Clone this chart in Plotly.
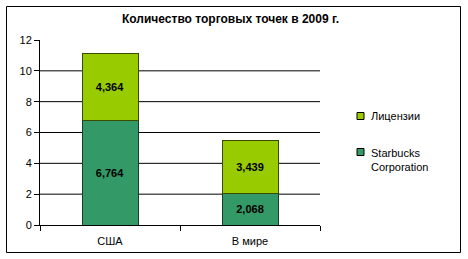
import plotly.graph_objects as go

categories = ["США", "В мире"]
starbucks = [6.764, 2.068]
licenses = [4.364, 3.439]
series_names = ["Starbucks<br>Corporation", "Лицензии"]
y_ticks = [0, 2, 4, 6, 8, 10, 12]
grid_vals = [2, 4, 6, 8, 10]

W, H = 468, 259
L, R, T, B = 40, 148, 40, 34
PW, PH = W - L - R, H - T - B

def px(x):
    return (x - L) / PW

def py(y):
    return (H - B - y) / PH

FONT = "Arial, Liberation Sans, sans-serif"
C_SB = "#339966"
C_LIC = "#99CC00"

fig = go.Figure()
fig.add_trace(go.Bar(
    x=categories, y=starbucks, name="Starbucks Corporation",
    marker=dict(color=C_SB, line=dict(color="#1a3a2a", width=1)),
    width=0.4, texttemplate="<b>%{y:.3f}</b>", textposition="inside",
    insidetextanchor="middle",
    textfont=dict(family=FONT, size=11, color="black"),
))
fig.add_trace(go.Bar(
    x=categories, y=licenses, name="Лицензии",
    marker=dict(color=C_LIC, line=dict(color="#3a4a00", width=1)),
    width=0.4, texttemplate="<b>%{y:.3f}</b>", textposition="inside",
    insidetextanchor="middle",
    textfont=dict(family=FONT, size=11, color="black"),
))

shapes = []
for g in grid_vals:
    shapes.append(dict(type="line", xref="paper", yref="y", x0=0, x1=1, y0=g, y1=g,
                       line=dict(color="black", width=1), layer="below"))
# outer border
shapes.append(dict(type="rect", xref="paper", yref="paper",
                   x0=px(6.5), x1=px(460.5), y0=py(252.5), y1=py(6.5),
                   line=dict(color="black", width=1), fillcolor="rgba(0,0,0,0)"))
# legend squares
for ycen, col in [(116, C_LIC), (152, C_SB)]:
    shapes.append(dict(type="rect", xref="paper", yref="paper",
                       x0=px(357), x1=px(364), y0=py(ycen + 3.5), y1=py(ycen - 3.5),
                       line=dict(color="black", width=1), fillcolor=col))

annotations = [
    dict(text="<b>Количество торговых точек в 2009 г.</b>", xref="paper", yref="paper",
         x=px(230), y=py(19), showarrow=False, xanchor="center", yanchor="middle",
         font=dict(family=FONT, size=12, color="black")),
    dict(text=series_names[1], xref="paper", yref="paper", x=px(369), y=py(116),
         showarrow=False, xanchor="left", yanchor="middle", align="left",
         font=dict(family=FONT, size=11, color="black")),
    dict(text=series_names[0], xref="paper", yref="paper", x=px(369), y=py(152 - 7),
         showarrow=False, xanchor="left", yanchor="top", align="left",
         font=dict(family=FONT, size=11, color="black")),
]

fig.update_layout(
    width=W, height=H, margin=dict(l=L, r=R, t=T, b=B),
    barmode="stack", showlegend=False, separators=", ",
    paper_bgcolor="white", plot_bgcolor="white",
    shapes=shapes, annotations=annotations,
    font=dict(family=FONT, size=11, color="black"),
)
fig.update_xaxes(showline=True, linecolor="black", linewidth=1, ticks="outside",
                 tickson="boundaries", ticklen=5, tickcolor="black", showgrid=False,
                 ticklabelstandoff=6,
                 tickfont=dict(family=FONT, size=11, color="black"))
fig.update_yaxes(range=[0, 12], tickvals=y_ticks, showgrid=False, zeroline=False,
                 showline=True, linecolor="black", linewidth=1, ticks="outside",
                 ticklen=5, tickcolor="black",
                 tickfont=dict(family=FONT, size=11, color="black"))

fig.write_html("out.html")
